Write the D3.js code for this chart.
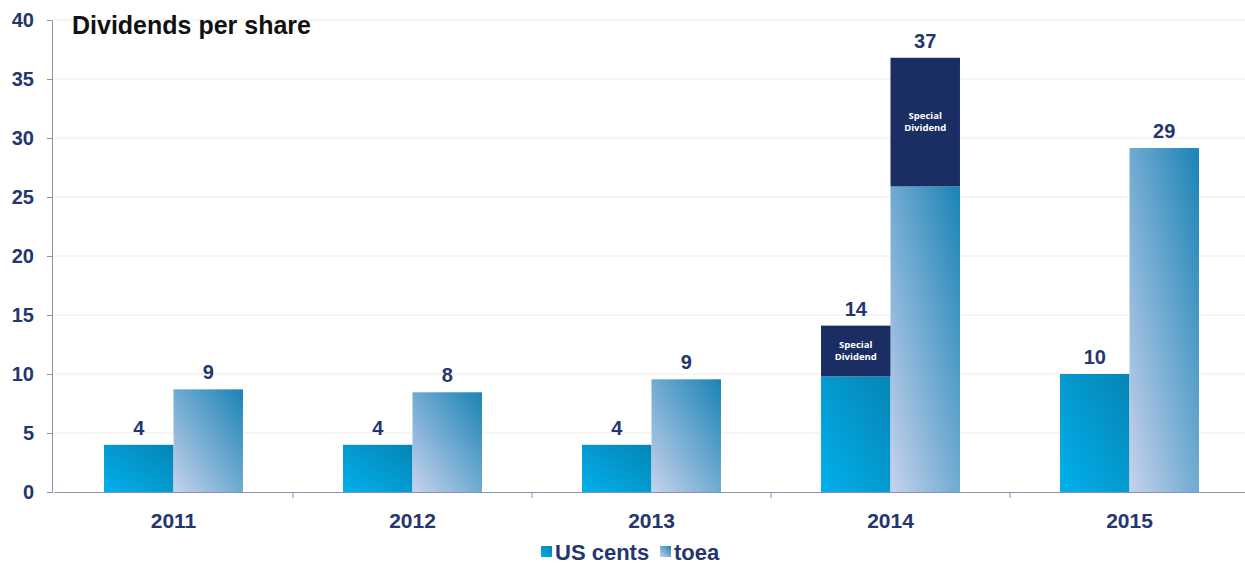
<!DOCTYPE html>
<html>
<head>
<meta charset="utf-8">
<script src="https://cdn.jsdelivr.net/npm/d3@7"></script>
<style>
  body { margin: 0; background: #fff; }
  text { font-family: "Liberation Sans", Arial, sans-serif; }
</style>
</head>
<body>
<svg width="1245" height="571"></svg>
<script>
//Chart data
let years = ["2011", "2012", "2013", "2014", "2015"];
let usCents = [4, 4, 4, 9.8, 10];
let usSpecial = [0, 0, 0, 4.3, 0];
let toea = [8.7, 8.45, 9.55, 25.9, 29.15];
let toeaSpecial = [0, 0, 0, 10.9, 0];
let usLabels = ["4", "4", "4", "14", "10"];
let toeaLabels = ["9", "8", "9", "37", "29"];
let yTicks = [0, 5, 10, 15, 20, 25, 30, 35, 40];
let series = ["US cents", "toea"];

let svg = d3.select("svg"),
    margin = {top: 20, right: -4, bottom: 79, left: 54},
    width = +svg.attr("width") - margin.left - margin.right,
    height = +svg.attr("height") - margin.top - margin.bottom;

let x = d3.scaleBand().domain(years).range([0, width]).paddingInner(0).paddingOuter(0);
let x1 = d3.scaleBand().domain(series).range([0, x.bandwidth()]).paddingOuter(0.72).paddingInner(0);
let y = d3.scaleLinear().domain([0, 40]).range([height, 0]);

let navy = "#24366f";

//Gradients for the two series
let defs = svg.append("defs");
function addGradient(id, from, to){
  let g = defs.append("linearGradient").attr("id", id)
    .attr("x1", "0%").attr("y1", "100%").attr("x2", "100%").attr("y2", "0%");
  g.append("stop").attr("offset", "0%").attr("stop-color", from);
  g.append("stop").attr("offset", "100%").attr("stop-color", to);
}
addGradient("gradUS", "#00b0ec", "#0784b4");
addGradient("gradToea", "#c7d2ec", "#1a83b6");

let chart = svg.append("g")
    .attr("transform", "translate(" + margin.left + "," + margin.top + ")");

//Grid lines
chart.selectAll(".grid").data(yTicks.slice(1)).enter().append("line")
    .attr("x1", 0).attr("x2", width)
    .attr("y1", d => y(d)).attr("y2", d => y(d))
    .attr("stroke", "#ececec").attr("stroke-width", 1);

//Y axis
let yAxis = chart.append("g").attr("transform", "translate(-2,0)")
    .call(d3.axisLeft(y).tickValues(yTicks).tickSize(5).tickPadding(13));
yAxis.select(".domain").attr("stroke", "#8c8fa8");
yAxis.selectAll(".tick line").attr("stroke", "#8c8fa8");
yAxis.selectAll("text").attr("fill", navy).style("font-size", "20px").style("font-weight", "bold");

//Bars
let groups = chart.selectAll(".year").data(years).enter().append("g")
    .attr("transform", d => "translate(" + x(d) + ",0)");

groups.append("rect")
    .attr("x", x1("US cents")).attr("width", x1.bandwidth())
    .attr("y", (d, i) => y(usCents[i])).attr("height", (d, i) => y(0) - y(usCents[i]))
    .attr("fill", "url(#gradUS)");
groups.append("rect")
    .attr("x", x1("toea")).attr("width", x1.bandwidth())
    .attr("y", (d, i) => y(toea[i])).attr("height", (d, i) => y(0) - y(toea[i]))
    .attr("fill", "url(#gradToea)");

//Special dividend stacks
groups.filter((d, i) => usSpecial[i] > 0).append("rect")
    .attr("x", x1("US cents")).attr("width", x1.bandwidth())
    .attr("y", d => y(usCents[years.indexOf(d)] + usSpecial[years.indexOf(d)]))
    .attr("height", d => y(0) - y(usSpecial[years.indexOf(d)]))
    .attr("fill", "#1b2e63");
groups.filter((d, i) => toeaSpecial[i] > 0).append("rect")
    .attr("x", x1("toea")).attr("width", x1.bandwidth())
    .attr("y", d => y(toea[years.indexOf(d)] + toeaSpecial[years.indexOf(d)]))
    .attr("height", d => y(0) - y(toeaSpecial[years.indexOf(d)]))
    .attr("fill", "#1b2e63");

//Special dividend labels
function specialLabel(sel, key, base, extra){
  sel.filter((d, i) => extra[i] > 0).each(function(d){
    let i = years.indexOf(d);
    let mid = y(base[i] + extra[i] / 2);
    let cx = x1(key) + x1.bandwidth() / 2;
    let t = d3.select(this).append("text")
      .attr("text-anchor", "middle")
      .attr("fill", "#fff").style("font-size", "9.5px").style("font-weight", "bold")
      .style("font-family", "'Open Sans', sans-serif");
    t.append("tspan").attr("x", cx).attr("y", mid - 3).text("Special");
    t.append("tspan").attr("x", cx).attr("y", mid + 9).text("Dividend");
  });
}
specialLabel(groups, "US cents", usCents, usSpecial);
specialLabel(groups, "toea", toea, toeaSpecial);

//Value labels
groups.append("text")
    .attr("x", x1("US cents") + x1.bandwidth() / 2)
    .attr("y", (d, i) => y(usCents[i] + usSpecial[i]) - 10)
    .attr("text-anchor", "middle").attr("fill", navy)
    .style("font-size", "20px").style("font-weight", "bold")
    .text((d, i) => usLabels[i]);
groups.append("text")
    .attr("x", x1("toea") + x1.bandwidth() / 2)
    .attr("y", (d, i) => y(toea[i] + toeaSpecial[i]) - 10)
    .attr("text-anchor", "middle").attr("fill", navy)
    .style("font-size", "20px").style("font-weight", "bold")
    .text((d, i) => toeaLabels[i]);

//X axis
let xAxis = chart.append("g").attr("transform", "translate(0," + height + ")")
    .call(d3.axisBottom(x).tickSize(0).tickPadding(21));
xAxis.select(".domain").attr("stroke", "#8c8fa8");
xAxis.selectAll("text").attr("fill", navy).style("font-size", "21px").style("font-weight", "bold");
chart.selectAll(".sep").data(years.slice(1)).enter().append("line")
    .attr("x1", d => x(d)).attr("x2", d => x(d))
    .attr("y1", height).attr("y2", height + 6)
    .attr("stroke", "#8c8fa8");

//Title
svg.append("text").attr("x", 72).attr("y", 34)
    .attr("fill", "#111").style("font-size", "25px").style("font-weight", "bold")
    .text("Dividends per share");

//Legend
let legend = svg.append("g").attr("transform", "translate(541,560)");
let legendX = [0, 119];
series.forEach(function(s, i){
  let g = legend.append("g").attr("transform", "translate(" + legendX[i] + ",0)");
  g.append("rect").attr("x", 0).attr("y", -14).attr("width", 11).attr("height", 11)
    .attr("fill", i == 0 ? "url(#gradUS)" : "url(#gradToea)");
  g.append("text").attr("x", 14).attr("y", 0).attr("fill", navy)
    .style("font-size", "22px").style("font-weight", "bold").text(s);
});
</script>
</body>
</html>
